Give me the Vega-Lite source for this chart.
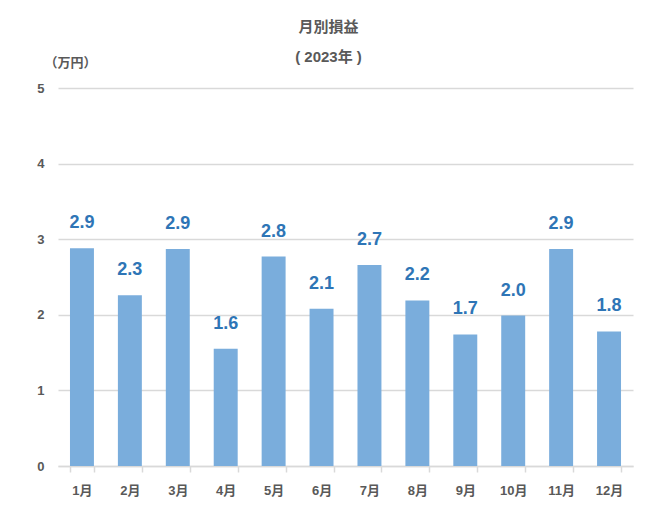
{
  "$schema": "https://vega.github.io/schema/vega-lite/v6.json",
  "description": "月別損益 (2023年)",
  "autosize": {"type": "none"},
  "padding": {"left": 58, "top": 88, "right": 23, "bottom": 59},
  "width": 575,
  "height": 378,
  "background": "white",
  "title": {
    "text": "月別損益",
    "subtitle": "( 2023年 )",
    "anchor": "middle",
    "frame": "group",
    "dx": -17,
    "offset": -9,
    "font": "Liberation Sans, Noto Sans CJK JP",
    "fontSize": 15,
    "fontWeight": "bold",
    "color": "#595959",
    "subtitleFont": "Liberation Sans, Noto Sans CJK JP",
    "subtitleFontSize": 15,
    "subtitleFontWeight": "bold",
    "subtitleColor": "#595959",
    "subtitlePadding": 15
  },
  "data": {
    "values": [
      {"month": "1月", "value": 2.88},
      {"month": "2月", "value": 2.26},
      {"month": "3月", "value": 2.87},
      {"month": "4月", "value": 1.55},
      {"month": "5月", "value": 2.77},
      {"month": "6月", "value": 2.08},
      {"month": "7月", "value": 2.66},
      {"month": "8月", "value": 2.19},
      {"month": "9月", "value": 1.74},
      {"month": "10月", "value": 1.99},
      {"month": "11月", "value": 2.87},
      {"month": "12月", "value": 1.78}
    ]
  },
  "encoding": {
    "x": {
      "field": "month",
      "type": "nominal",
      "sort": null,
      "title": null,
      "scale": {"paddingInner": 0.5, "paddingOuter": 0.25},
      "axis": {
        "labelAngle": 0,
        "labelFont": "Liberation Sans, Noto Sans CJK JP",
        "labelFontSize": 13,
        "labelFontWeight": "bold",
        "labelColor": "#595959",
        "labelPadding": 12,
        "domainColor": "#d9d9d9",
        "domainWidth": 1.5,
        "tickColor": "#d9d9d9",
        "tickWidth": 1.5,
        "tickSize": 6,
        "tickBand": "extent"
      }
    },
    "y": {
      "field": "value",
      "type": "quantitative",
      "scale": {"domain": [0, 5]},
      "title": "（万円）",
      "axis": {
        "values": [0, 1, 2, 3, 4, 5],
        "grid": true,
        "gridColor": "#d9d9d9",
        "gridWidth": 1.5,
        "domain": false,
        "ticks": false,
        "labelFont": "Liberation Sans, Noto Sans CJK JP",
        "labelFontSize": 13,
        "labelFontWeight": "bold",
        "labelColor": "#595959",
        "labelPadding": 14,
        "titleAngle": 0,
        "titleX": 12,
        "titleY": -26,
        "titleAlign": "center",
        "titleBaseline": "middle",
        "titleFont": "Liberation Sans, Noto Sans CJK JP",
        "titleFontSize": 13,
        "titleFontWeight": "bold",
        "titleColor": "#595959"
      }
    }
  },
  "layer": [
    {
      "mark": {"type": "bar", "color": "#7aaddc"}
    },
    {
      "mark": {
        "type": "text",
        "baseline": "middle",
        "dy": -25,
        "font": "Liberation Sans, Noto Sans CJK JP",
        "fontSize": 18,
        "fontWeight": "bold",
        "color": "#2e75b6"
      },
      "encoding": {
        "text": {"field": "value", "type": "quantitative", "format": ".1f"}
      }
    }
  ],
  "config": {
    "view": {"stroke": null}
  }
}
